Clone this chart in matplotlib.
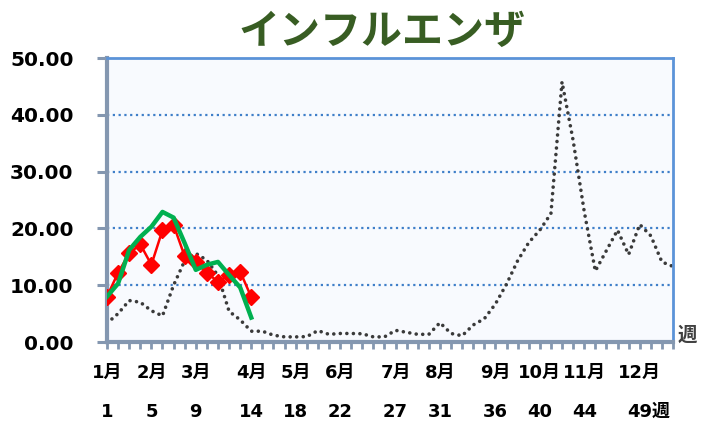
import numpy as np
import matplotlib
matplotlib.use("Agg")
import matplotlib.pyplot as plt

plt.rcParams['font.family'] = ['DejaVu Sans', 'Noto Sans CJK JP']

# weekly values
weeks = np.arange(1, 53)
prev_season = [3.3, 5.0, 7.3, 7.0, 5.5, 4.6, 10.0, 14.3, 15.6, 14.4,
               11.7, 5.4, 3.9, 1.9, 1.9, 1.2, 0.9, 0.9, 0.95, 2.0,
               1.35, 1.5, 1.5, 1.45, 0.9, 0.9, 2.05, 1.7, 1.35, 1.35,
               3.4, 1.5, 1.1, 3.0, 4.1, 6.7, 10.2, 14.3, 17.5, 19.7,
               22.6, 45.8, 35.5, 23.0, 12.5, 16.1, 19.7, 15.4, 20.7, 18.7,
               14.1, 13.3]
weeks_now = np.arange(1, 15)
red_series = [8.0, 12.2, 15.6, 17.2, 13.6, 19.7, 20.6, 15.1, 14.0, 12.2,
              10.6, 11.8, 12.4, 7.9]
green_series = [8.0, 10.3, 16.2, 18.5, 20.3, 22.9, 21.9, 17.4, 12.7, 13.6,
                14.1, 11.8, 9.6, 4.3]

month_labels = ["1月", "2月", "3月", "4月", "5月", "6月", "7月", "8月", "9月",
                "10月", "11月", "12月"]
month_weeks = [1, 5, 9, 14, 18, 22, 27, 31, 36, 40, 44, 49]
week_labels = ["1", "5", "9", "14", "18", "22", "27", "31", "36", "40", "44", "49週"]

fig = plt.figure(figsize=(7.08, 4.21), dpi=100)
ax = fig.add_axes([107/708, 1 - 342/421, (673-107)/708, (342-58)/421])
ax.set_facecolor("#f8fafe")

# grid lines
for g in [10, 20, 30, 40]:
    ax.axhline(g, color="#3f7fc9", lw=1.6, linestyle=(0, (1, 1.6)), zorder=1)

ax.plot(weeks, prev_season, color="#3a3a3a", lw=2.6,
        linestyle=(0, (0.01, 1.8)), dash_capstyle="round", zorder=2)
ax.plot(weeks_now, red_series, color="#ff0000", lw=1.8, marker="D",
        markersize=8, zorder=3)
ax.plot(weeks_now, green_series, color="#00b050", lw=3.2, zorder=4)

ax.set_xlim(1, 52)
ax.set_ylim(0, 50)
ax.set_yticks([0, 10, 20, 30, 40, 50])
ax.set_yticklabels(["%.2f" % v for v in [0, 10, 20, 30, 40, 50]],
                   fontsize=14.5, fontweight="bold")
ax.set_xticks([])
ax.set_xticks(weeks, minor=True)
ax.tick_params(axis="x", which="minor", length=5, width=2, color="#8497b0",
               direction="out")
ax.tick_params(axis="y", which="major", length=7, width=2.2, color="#8497b0",
               pad=17)

for side in ["left", "bottom"]:
    ax.spines[side].set_color("#8497b0")
    ax.spines[side].set_linewidth(3)
for side in ["top", "right"]:
    ax.spines[side].set_color("#5b93d8")
    ax.spines[side].set_linewidth(2)

tr = ax.get_xaxis_transform()
for w, m, k in zip(month_weeks, month_labels, week_labels):
    ax.text(w, -0.11, m, transform=tr, ha="center", va="center",
            fontsize=13, fontweight="bold")
    if k.endswith("週"):
        ax.text(w - 1.15, -0.245, k, transform=tr, ha="left", va="center",
                fontsize=13, fontweight="bold")
    else:
        ax.text(w, -0.245, k, transform=tr, ha="center", va="center",
                fontsize=13, fontweight="bold")

ax.text(1.025, 0.025, "週", transform=ax.transAxes, ha="center", va="center",
        fontsize=14, fontweight="bold", color="#404040")

fig.text(0.54, 0.925, "インフルエンザ", ha="center", va="center",
         fontsize=29.5, fontweight="bold", color="#385d23",
         family="Noto Sans CJK JP")

fig.savefig("out.png", dpi=100)
